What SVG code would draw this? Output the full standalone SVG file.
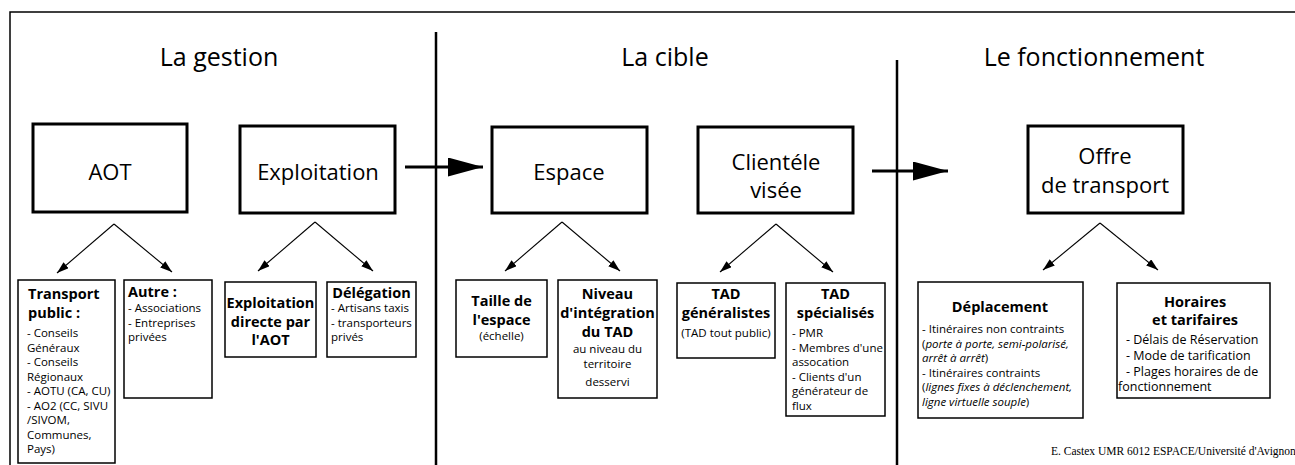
<svg xmlns="http://www.w3.org/2000/svg" width="1295" height="465" viewBox="0 0 1295 465">
<style>
text{font-family:"Open Sans","Noto Sans","Liberation Sans",sans-serif;fill:#000}
.title{font-size:25px;text-anchor:middle}
.big{font-size:22px;text-anchor:middle}
.b{font-weight:bold;font-size:14.5px}
.c{text-anchor:middle}
.r{font-size:11.5px}
.r2{font-size:12.5px}
.main{fill:#fff;stroke:#000;stroke-width:3}
.sub{fill:#fff;stroke:#000;stroke-width:1.5}
.frame{stroke:#000;stroke-width:1.5;fill:none}
.sep{stroke:#000;stroke-width:2.5;fill:none}
.thin{stroke:#000;stroke-width:1.1;fill:none}
.thick{stroke:#000;stroke-width:3;fill:none}
.credit{font-family:"Liberation Serif","Times New Roman",serif;font-size:11.5px}
</style>
<defs>
<marker id="ah" viewBox="0 0 12 8" refX="12" refY="4" markerWidth="12" markerHeight="8" markerUnits="userSpaceOnUse" orient="auto">
<path d="M0,0 L12,4 L0,8 Z" fill="#000"/>
</marker>
<marker id="bh" viewBox="0 0 35 19" refX="35" refY="9.5" markerWidth="35" markerHeight="19" markerUnits="userSpaceOnUse" orient="auto">
<path d="M0,0 L35,9.5 L0,19 Z" fill="#000"/>
</marker>
</defs>
<rect x="0" y="0" width="1295" height="465" fill="#fff"/>
<path class="frame" d="M10,465 L10,12 L1295,12"/>
<line class="sep" x1="436" y1="32" x2="436" y2="465"/>
<line class="sep" x1="897" y1="60" x2="897" y2="465"/>

<text class="title" x="219" y="66">La gestion</text>
<text class="title" x="665" y="66">La cible</text>
<text class="title" x="1094" y="66">Le fonctionnement</text>

<g id="connectors">
<line class="thick" x1="405" y1="167" x2="483" y2="167" marker-end="url(#bh)"/>
<line class="thick" x1="872" y1="171" x2="948" y2="171" marker-end="url(#bh)"/>
<line class="thin" x1="114" y1="224" x2="57" y2="273" marker-end="url(#ah)"/>
<line class="thin" x1="114" y1="224" x2="172" y2="272" marker-end="url(#ah)"/>
<line class="thin" x1="315" y1="222" x2="258" y2="271" marker-end="url(#ah)"/>
<line class="thin" x1="315" y1="222" x2="373" y2="271" marker-end="url(#ah)"/>
<line class="thin" x1="562" y1="222" x2="505" y2="271" marker-end="url(#ah)"/>
<line class="thin" x1="562" y1="222" x2="620" y2="271" marker-end="url(#ah)"/>
<line class="thin" x1="776" y1="224" x2="720" y2="272" marker-end="url(#ah)"/>
<line class="thin" x1="776" y1="224" x2="833" y2="272" marker-end="url(#ah)"/>
<line class="thin" x1="1100" y1="223" x2="1043" y2="270" marker-end="url(#ah)"/>
<line class="thin" x1="1100" y1="223" x2="1158" y2="270" marker-end="url(#ah)"/>
</g>

<g id="aot">
<rect class="main" x="33" y="124" width="154" height="88"/>
<text class="big" x="110" y="180">AOT</text>
</g>
<g id="exploitation">
<rect class="main" x="240" y="126" width="155" height="87"/>
<text class="big" x="318" y="180">Exploitation</text>
</g>
<g id="espace">
<rect class="main" x="492" y="127" width="155" height="86"/>
<text class="big" x="569" y="180">Espace</text>
</g>
<g id="clientele">
<rect class="main" x="698" y="127" width="155" height="86"/>
<text class="big" x="776" y="170">Clientéle</text>
<text class="big" x="776" y="198">visée</text>
</g>
<g id="offre">
<rect class="main" x="1028" y="126" width="155" height="87"/>
<text class="big" x="1105" y="164">Offre</text>
<text class="big" x="1105" y="193">de transport</text>
</g>

<g id="transport-public">
<rect class="sub" x="18" y="280" width="97" height="183"/>
<text class="b" x="28" y="299">Transport</text>
<text class="b" x="28" y="318">public :</text>
<text class="r" x="27"><tspan x="27" y="337">- Conseils</tspan><tspan x="27" y="351.5">Généraux</tspan><tspan x="27" y="366">- Conseils</tspan><tspan x="27" y="380.5">Régionaux</tspan><tspan x="27" y="395">- AOTU (CA, CU)</tspan><tspan x="27" y="409.5">- AO2 (CC, SIVU</tspan><tspan x="27" y="424">/SIVOM,</tspan><tspan x="27" y="438.5">Communes,</tspan><tspan x="27" y="453">Pays)</tspan></text>
</g>
<g id="autre">
<rect class="sub" x="124" y="280" width="88" height="118"/>
<text class="b" x="128" y="297">Autre :</text>
<text class="r"><tspan x="128" y="312">- Associations</tspan><tspan x="128" y="326.5">- Entreprises</tspan><tspan x="128" y="341">privées</tspan></text>
</g>
<g id="exploitation-directe">
<rect class="sub" x="225" y="282" width="91" height="75"/>
<text class="b c"><tspan x="270.5" y="308">Exploitation</tspan><tspan x="270.5" y="327">directe par</tspan><tspan x="270.5" y="345">l'AOT</tspan></text>
</g>
<g id="delegation">
<rect class="sub" x="327" y="282" width="89" height="75"/>
<text class="b c" x="371.5" y="298">Délégation</text>
<text class="r"><tspan x="331" y="312">- Artisans taxis</tspan><tspan x="331" y="326.5">- transporteurs</tspan><tspan x="331" y="341">privés</tspan></text>
</g>
<g id="taille">
<rect class="sub" x="456" y="280" width="91" height="77"/>
<text class="b c"><tspan x="501.5" y="306">Taille de</tspan><tspan x="501.5" y="325">l'espace</tspan></text>
<text class="r c" x="501.5" y="340">(échelle)</text>
</g>
<g id="niveau">
<rect class="sub" x="558" y="280" width="99" height="118"/>
<text class="b c"><tspan x="607.5" y="299">Niveau</tspan><tspan x="607.5" y="318">d'intégration</tspan><tspan x="607.5" y="337">du TAD</tspan></text>
<text class="r c"><tspan x="607.5" y="353">au niveau du</tspan><tspan x="607.5" y="368">territoire</tspan><tspan x="607.5" y="386">desservi</tspan></text>
</g>
<g id="tad-generalistes">
<rect class="sub" x="677" y="283" width="98" height="75"/>
<text class="b c"><tspan x="726" y="299">TAD</tspan><tspan x="726" y="318">généralistes</tspan></text>
<text class="r c" x="726" y="337">(TAD tout public)</text>
</g>
<g id="tad-specialises">
<rect class="sub" x="786" y="283" width="99" height="133"/>
<text class="b c"><tspan x="835.5" y="299">TAD</tspan><tspan x="835.5" y="318">spécialisés</tspan></text>
<text class="r"><tspan x="792" y="337">- PMR</tspan><tspan x="792" y="351.5">- Membres d'une</tspan><tspan x="792" y="366">assocation</tspan><tspan x="792" y="380.5">- Clients d'un</tspan><tspan x="792" y="395">générateur de</tspan><tspan x="792" y="409.5">flux</tspan></text>
</g>
<g id="deplacement">
<rect class="sub" x="918" y="282" width="165" height="136"/>
<text class="b c" x="1000" y="312">Déplacement</text>
<text class="r"><tspan x="922" y="333">- Itinéraires non contraints</tspan><tspan x="922" y="347.5">(<tspan font-style="italic">porte à porte, semi-polarisé,</tspan></tspan><tspan x="922" y="362"><tspan font-style="italic">arrêt à arrêt</tspan>)</tspan><tspan x="922" y="376.5">- Itinéraires contraints</tspan><tspan x="922" y="391">(<tspan font-style="italic">lignes fixes à déclenchement,</tspan></tspan><tspan x="922" y="405.5"><tspan font-style="italic">ligne virtuelle souple</tspan>)</tspan></text>
</g>
<g id="horaires">
<rect class="sub" x="1117" y="283" width="153" height="115"/>
<text class="b c"><tspan x="1195" y="307">Horaires</tspan><tspan x="1195" y="325">et tarifaires</tspan></text>
<text class="r2"><tspan x="1126" y="344">- Délais de Réservation</tspan><tspan x="1126" y="360">- Mode de tarification</tspan><tspan x="1126" y="376">- Plages horaires de de</tspan><tspan x="1118" y="391">fonctionnement</tspan></text>
</g>

<text class="credit" x="1051" y="455">E. Castex UMR 6012 ESPACE/Université d'Avignon</text>
</svg>
